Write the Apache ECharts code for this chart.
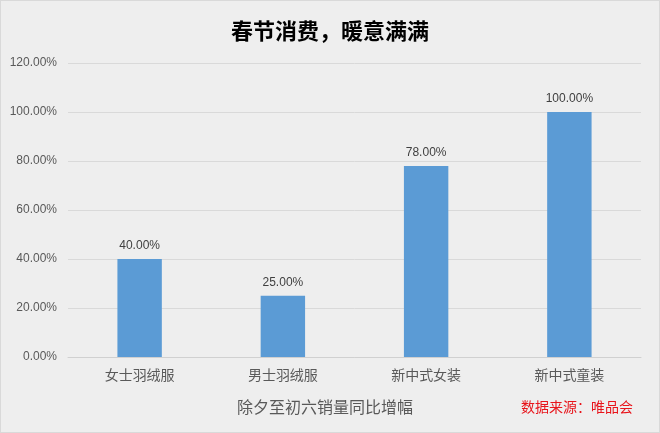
<!DOCTYPE html>
<html lang="zh">
<head>
    <meta charset="UTF-8">
    <title>春节消费</title>
    <style>
        html, body { margin: 0; padding: 0; background: #eeeeee; }
        #container { width: 658px; height: 431px; border: 1px solid #d9d9d9; background: #eeeeee; }
    </style>
</head>
<body>
<div id="container"></div>
<script type="text/javascript" src="https://cdn.jsdelivr.net/npm/echarts@6/dist/echarts.min.js"></script>
<script type="text/javascript">
    // 数据
    var categories = ['女士羽绒服', '男士羽绒服', '新中式女装', '新中式童装'];
    var values = [40, 25, 78, 100];
    var yTicks = [0, 20, 40, 60, 80, 100, 120];

    var dom = document.getElementById('container');
    var myChart = echarts.init(dom, null, { renderer: 'canvas' });
    var font = '"Noto Sans CJK SC", "Microsoft YaHei", sans-serif';

    var option = {
        backgroundColor: '#eeeeee',
        textStyle: { fontFamily: font },
        title: {
            text: '春节消费，暖意满满',
            left: 'center',
            top: 14,
            textStyle: { fontSize: 22, fontWeight: 'bold', color: '#000', fontFamily: font }
        },
        graphic: [{
            // 横轴说明（原图略偏左）
            type: 'text',
            left: 236,
            top: 398,
            style: { text: '除夕至初六销量同比增幅', fill: '#595959', fontSize: 16, fontFamily: font }
        }, {
            type: 'text',
            right: 26,
            top: 399,
            style: { text: '数据来源：唯品会', fill: '#e8141b', fontSize: 14, fontFamily: font }
        }],
        grid: { left: 67, right: 18, top: 62, bottom: 75 },
        xAxis: {
            type: 'category',
            data: categories,
            axisLine: { lineStyle: { color: '#d0d0d0' } },
            axisTick: { show: false },
            axisLabel: { fontSize: 14, color: '#595959', margin: 11, fontFamily: font }
        },
        yAxis: {
            type: 'value',
            min: yTicks[0],
            max: yTicks[yTicks.length - 1],
            interval: 20,
            axisLine: { show: false },
            axisTick: { show: false },
            splitLine: { lineStyle: { color: '#d9d9d9' } },
            axisLabel: {
                fontSize: 12,
                color: '#595959',
                margin: 11,
                fontFamily: 'Arial, "Liberation Sans", sans-serif',
                formatter: function (v) { return v.toFixed(2) + '%'; }
            }
        },
        series: [{
            type: 'bar',
            data: values,
            barWidth: '31%',
            itemStyle: { color: '#5b9bd5' },
            label: {
                show: true,
                position: 'top',
                distance: 7,
                fontSize: 12,
                color: '#404040',
                fontFamily: 'Arial, "Liberation Sans", sans-serif',
                formatter: function (p) { return p.value.toFixed(2) + '%'; }
            }
        }]
    };

    myChart.setOption(option);
    window.addEventListener('resize', myChart.resize);
</script>
</body>
</html>
